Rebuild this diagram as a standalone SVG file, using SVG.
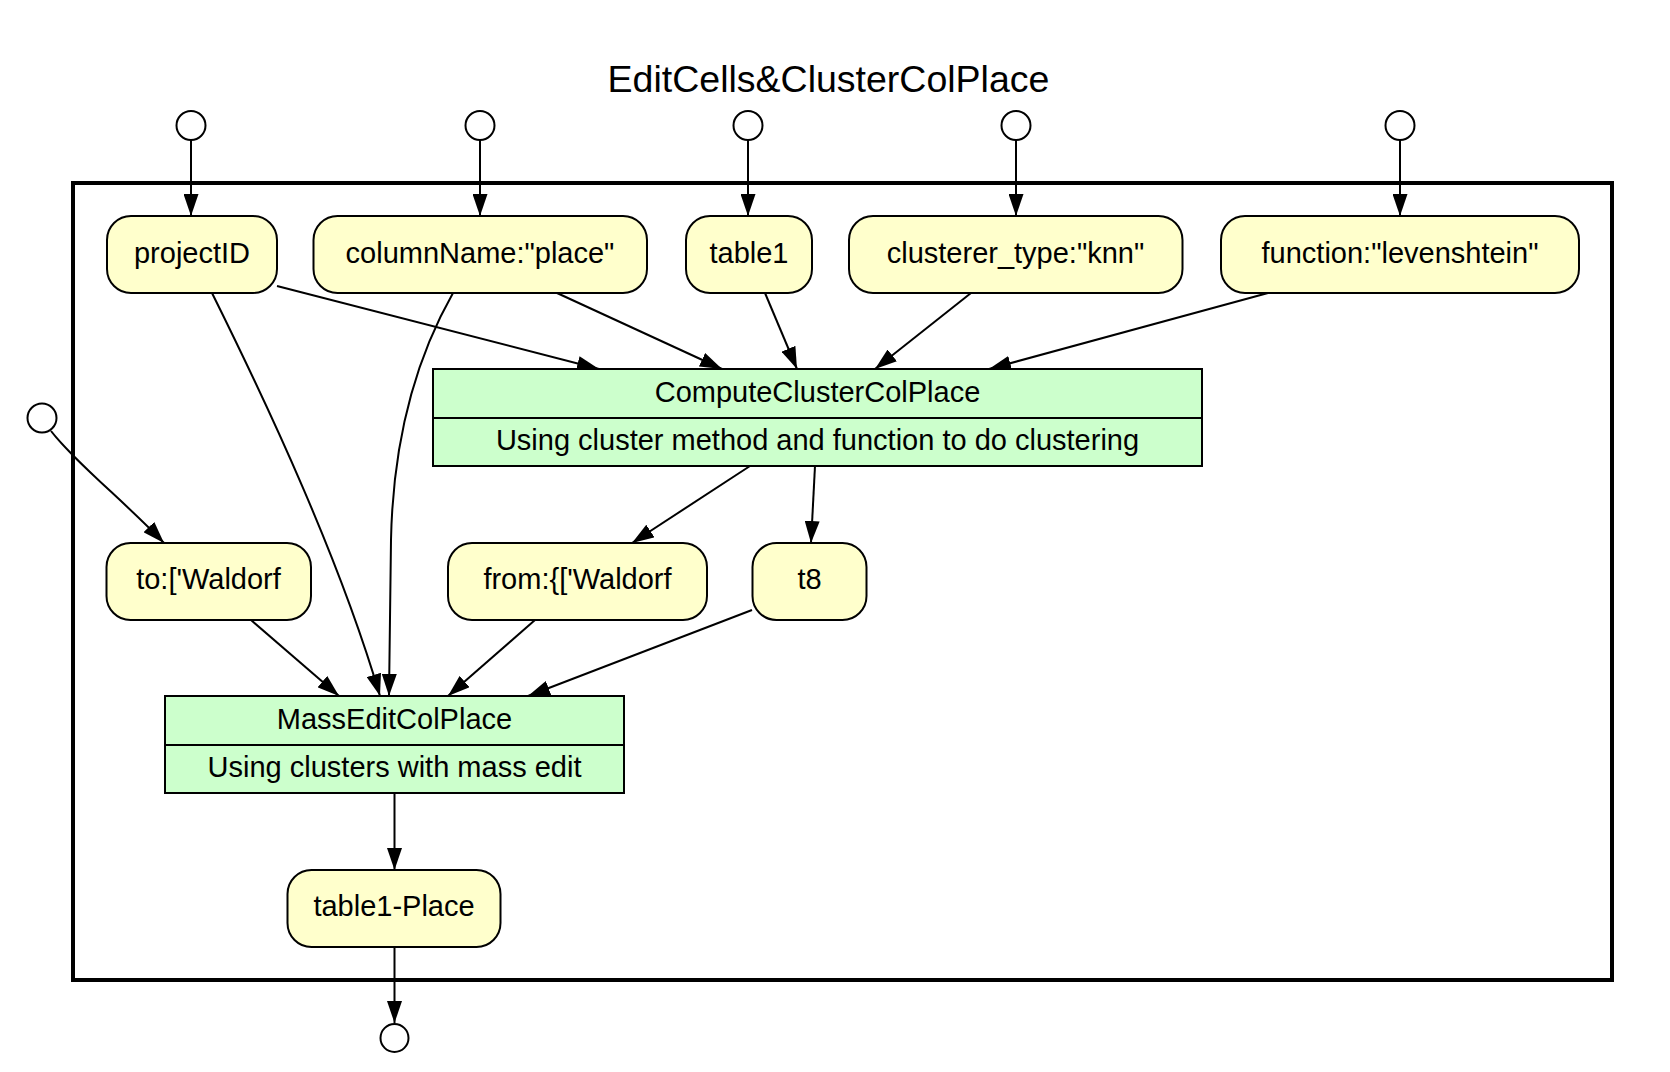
<svg xmlns="http://www.w3.org/2000/svg" width="1670" height="1072" viewBox="0 0 1670 1072">
  <style>
    text { font-family: "Liberation Sans", Arial, Helvetica, sans-serif; fill: #000; text-anchor: middle; }
    .title { font-size: 37.5px; }
    .lbl { font-size: 29px; }
    .data { fill: #ffffcc; stroke: #000; stroke-width: 2; }
    .proc { fill: #ccffcc; stroke: #000; stroke-width: 2; }
    .port { fill: #fff; stroke: #000; stroke-width: 2; }
    .edge { fill: none; stroke: #000; stroke-width: 2; marker-end: url(#ah); }
    .frame { fill: none; stroke: #000; stroke-width: 4; }
  </style>
  <defs>
    <marker id="ah" viewBox="0 0 22 15" refX="22" refY="7.5" markerWidth="22" markerHeight="15" orient="auto" markerUnits="userSpaceOnUse">
      <path d="M0,0 L22,7.5 L0,15 Z" fill="#000"/>
    </marker>
  </defs>
  <rect width="1670" height="1072" fill="#fff"/>

  <text class="title" x="828.5" y="91.5">EditCells&amp;ClusterColPlace</text>

  <!-- workflow boundary -->
  <rect class="frame" x="73" y="183" width="1539" height="797"/>

  <!-- input / output ports -->
  <g id="ports">
    <circle id="in_projectID" class="port" cx="191" cy="125.5" r="14.5"/>
    <circle id="in_columnName" class="port" cx="480" cy="125.5" r="14.5"/>
    <circle id="in_table1" class="port" cx="748" cy="125.5" r="14.5"/>
    <circle id="in_clusterer" class="port" cx="1016" cy="125.5" r="14.5"/>
    <circle id="in_function" class="port" cx="1400" cy="125.5" r="14.5"/>
    <circle id="in_to" class="port" cx="42" cy="418" r="14.5"/>
    <circle id="out_table1Place" class="port" cx="394.5" cy="1038" r="14"/>
  </g>

  <g id="connectors">
    <path class="edge" d="M191,140 L191,216"/>
    <path class="edge" d="M480,140 L480,216"/>
    <path class="edge" d="M748,140 L748,216"/>
    <path class="edge" d="M1016,140 L1016,216"/>
    <path class="edge" d="M1400,140 L1400,216"/>
    <path class="edge" d="M277,286 L599,369"/>
    <path class="edge" d="M557,293 L722,369"/>
    <path class="edge" d="M765,293 L797,369"/>
    <path class="edge" d="M971,293 L875,369"/>
    <path class="edge" d="M1268,293 L989,369"/>
    <path class="edge" d="M212,293 C270,410 340,560 380,696"/>
    <path class="edge" d="M453,293 C415,360 393,440 391,540 L389,696"/>
    <path class="edge" d="M750,466 L632,543"/>
    <path class="edge" d="M815,466 L811,543"/>
    <path class="edge" d="M51,431 C75,462 125,502 164,543"/>
    <path class="edge" d="M251,620 L339,696"/>
    <path class="edge" d="M535,620 L448,696"/>
    <path class="edge" d="M752,610 L528,696"/>
    <path class="edge" d="M394.5,793 L394.5,870"/>
    <path class="edge" d="M394.5,947 L394.5,1023"/>
  </g>

  <g id="projectID">
    <rect class="data" x="107" y="216" width="170" height="77" rx="24" ry="24"/>
    <text class="lbl" x="192" y="263">projectID</text>
  </g>
  <g id="columnName">
    <rect class="data" x="313.5" y="216" width="333.5" height="77" rx="24" ry="24"/>
    <text class="lbl" x="480" y="263">columnName:"place"</text>
  </g>
  <g id="table1">
    <rect class="data" x="686" y="216" width="126" height="77" rx="24" ry="24"/>
    <text class="lbl" x="749" y="263">table1</text>
  </g>
  <g id="clusterer_type">
    <rect class="data" x="849" y="216" width="333.5" height="77" rx="24" ry="24"/>
    <text class="lbl" x="1015.5" y="263">clusterer_type:"knn"</text>
  </g>
  <g id="function">
    <rect class="data" x="1221" y="216" width="358" height="77" rx="24" ry="24"/>
    <text class="lbl" x="1400" y="263">function:"levenshtein"</text>
  </g>

  <g id="ComputeClusterColPlace">
    <rect class="proc" x="433" y="369" width="769" height="97"/>
    <line x1="433" y1="418" x2="1202" y2="418" stroke="#000" stroke-width="2"/>
    <text class="lbl" x="817.5" y="402">ComputeClusterColPlace</text>
    <text class="lbl" x="817.5" y="450">Using cluster method and function to do clustering</text>
  </g>

  <g id="to">
    <rect class="data" x="106.5" y="543" width="204.5" height="77" rx="24" ry="24"/>
    <text class="lbl" x="208.5" y="589">to:['Waldorf</text>
  </g>
  <g id="from">
    <rect class="data" x="448" y="543" width="259" height="77" rx="24" ry="24"/>
    <text class="lbl" x="577.5" y="589">from:{['Waldorf</text>
  </g>
  <g id="t8">
    <rect class="data" x="752.5" y="543" width="114" height="77" rx="24" ry="24"/>
    <text class="lbl" x="809.5" y="589">t8</text>
  </g>

  <g id="MassEditColPlace">
    <rect class="proc" x="165" y="696" width="459" height="97"/>
    <line x1="165" y1="745" x2="624" y2="745" stroke="#000" stroke-width="2"/>
    <text class="lbl" x="394.5" y="728.5">MassEditColPlace</text>
    <text class="lbl" x="394.5" y="776.5">Using clusters with mass edit</text>
  </g>

  <g id="table1-Place">
    <rect class="data" x="287.5" y="870" width="213" height="77" rx="24" ry="24"/>
    <text class="lbl" x="394" y="916">table1-Place</text>
  </g>
</svg>
